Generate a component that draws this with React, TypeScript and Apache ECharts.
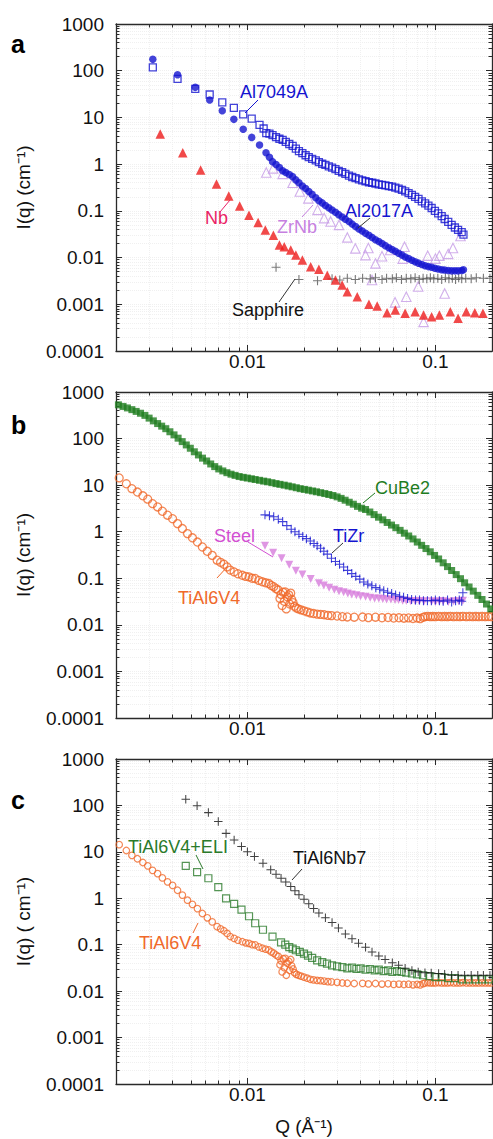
import React, { useEffect, useRef } from "react";
import * as echarts from "echarts";

// ---------- tick labels ----------
const xTickValues = [0.01, 0.1];
const xTickLabels = ["0.01", "0.1"];
const yTickValues = [0.0001, 0.001, 0.01, 0.1, 1, 10, 100, 1000];
const yTickLabels = ["0.0001", "0.001", "0.01", "0.1", "1", "10", "100", "1000"];

// ---------- panel a ----------
const al2017A: number[][] = [
  [0.00314, 175], [0.00425, 82], [0.00528, 44], [0.0063, 23.6], [0.00735, 13.9], [0.00847, 9.1], [0.0095, 5.6],
  [0.01054, 3.74], [0.0116, 2.57], [0.01256, 1.75], [0.0131, 1.4], [0.0136, 1.13], [0.0142, 0.98], [0.0148, 0.85],
  [0.0154, 0.72], [0.016, 0.66], [0.0167, 0.6], [0.0174, 0.54], [0.0181, 0.46], [0.0188, 0.4], [0.0196, 0.34],
  [0.0204, 0.3], [0.0212, 0.26], [0.0221, 0.225], [0.0231, 0.19], [0.024, 0.165], [0.025, 0.148], [0.026, 0.13],
  [0.0271, 0.116], [0.0282, 0.104], [0.0294, 0.093], [0.0306, 0.083], [0.0319, 0.074], [0.0332, 0.066], [0.0347, 0.059],
  [0.0361, 0.052], [0.0376, 0.046], [0.0392, 0.041], [0.0408, 0.037], [0.0425, 0.033], [0.0443, 0.03], [0.0461, 0.027],
  [0.048, 0.024], [0.05, 0.022], [0.052, 0.02], [0.0542, 0.018], [0.0565, 0.0162], [0.0588, 0.0148], [0.0612, 0.0136],
  [0.0637, 0.0124], [0.0664, 0.0113], [0.0691, 0.0103], [0.072, 0.0095], [0.075, 0.0088], [0.078, 0.0081], [0.0813, 0.0076],
  [0.0847, 0.0071], [0.0882, 0.0067], [0.0918, 0.0064], [0.0955, 0.0062], [0.0994, 0.0059], [0.1035, 0.0057], [0.108, 0.0055],
  [0.112, 0.0054], [0.117, 0.0053], [0.122, 0.0052], [0.127, 0.0052], [0.132, 0.0052], [0.138, 0.0053], [0.141, 0.0055],
];
const al7049A: number[][] = [
  [0.00314, 118], [0.00425, 67], [0.00528, 41], [0.0063, 31], [0.00735, 21], [0.00847, 16], [0.0095, 11.6],
  [0.01054, 9.4], [0.0116, 6.9], [0.0122, 5.8], [0.0126, 4.6], [0.0131, 4.5], [0.0136, 4.2], [0.0142, 3.8],
  [0.0148, 3.5], [0.0154, 3.3], [0.016, 3.0], [0.0167, 2.7], [0.0174, 2.45], [0.0181, 2.15], [0.0188, 1.9],
  [0.0196, 1.72], [0.0204, 1.55], [0.0212, 1.42], [0.0221, 1.3], [0.0231, 1.2], [0.024, 1.1], [0.025, 1.02],
  [0.026, 0.96], [0.0271, 0.9], [0.0282, 0.84], [0.0294, 0.78], [0.0306, 0.72], [0.0319, 0.67], [0.0332, 0.62],
  [0.0347, 0.57], [0.0361, 0.53], [0.0376, 0.5], [0.0392, 0.47], [0.0408, 0.45], [0.0425, 0.43], [0.0443, 0.41],
  [0.0461, 0.4], [0.048, 0.385], [0.05, 0.37], [0.052, 0.36], [0.0542, 0.35], [0.0565, 0.34], [0.0588, 0.33],
  [0.0612, 0.315], [0.0637, 0.3], [0.0664, 0.28], [0.0691, 0.26], [0.072, 0.24], [0.075, 0.22], [0.078, 0.2],
  [0.0813, 0.18], [0.0847, 0.16], [0.0882, 0.145], [0.0918, 0.13], [0.0955, 0.115], [0.0994, 0.1], [0.1035, 0.088],
  [0.108, 0.077], [0.112, 0.067], [0.117, 0.058], [0.122, 0.05], [0.127, 0.044], [0.132, 0.039], [0.138, 0.035], [0.141, 0.031],
];
const nb: number[][] = [
  [0.00344, 4.4], [0.00453, 1.75], [0.00564, 0.75], [0.00685, 0.375], [0.00796, 0.207], [0.0091, 0.127], [0.0102, 0.081],
  [0.0114, 0.056], [0.01245, 0.039], [0.01374, 0.03], [0.0148, 0.0185], [0.0157, 0.017], [0.017, 0.0145], [0.0181, 0.0113],
  [0.0196, 0.0089], [0.0217, 0.0064], [0.024, 0.0056], [0.0266, 0.0042], [0.0294, 0.0033], [0.0319, 0.0026], [0.034, 0.00186],
  [0.0384, 0.00145], [0.0443, 0.001], [0.049, 0.00092], [0.0553, 0.00066], [0.0612, 0.00075], [0.069, 0.00064], [0.078, 0.00069],
  [0.0865, 0.00059], [0.0955, 0.00054], [0.105, 0.00059], [0.12, 0.00069], [0.132, 0.0005], [0.146, 0.00069], [0.162, 0.00066], [0.179, 0.00064],
];
const zrNb: number[][] = [
  [0.0126, 0.66], [0.0137, 0.81], [0.0154, 0.62], [0.0174, 0.4], [0.019, 0.26], [0.0211, 0.185], [0.0236, 0.105],
  [0.0256, 0.07], [0.0277, 0.059], [0.0307, 0.05], [0.034, 0.027], [0.0375, 0.0157], [0.0425, 0.0113], [0.044, 0.016],
  [0.046, 0.0033], [0.048, 0.0075], [0.052, 0.0107], [0.0575, 0.0145], [0.061, 0.0011], [0.067, 0.0095], [0.0685, 0.017],
  [0.07, 0.00145], [0.081, 0.0024], [0.0865, 0.00042], [0.091, 0.011], [0.1, 0.0095], [0.105, 0.011], [0.112, 0.0017],
  [0.117, 0.012], [0.124, 0.016], [0.136, 0.029],
];
const sapphire: number[][] = [
  [0.0142, 0.0062], [0.0188, 0.0034], [0.0236, 0.0032], [0.0282, 0.0035], [0.031, 0.0033], [0.034, 0.0036], [0.0375, 0.0034],
  [0.041, 0.0036], [0.045, 0.0035], [0.048, 0.0037], [0.052, 0.0034], [0.055, 0.0036], [0.059, 0.0035], [0.062, 0.0037],
  [0.066, 0.0034], [0.07, 0.0036], [0.074, 0.0035], [0.078, 0.0037], [0.082, 0.0034], [0.086, 0.0036], [0.09, 0.0035],
  [0.094, 0.0037], [0.098, 0.0035], [0.103, 0.0036], [0.108, 0.0034], [0.113, 0.0037], [0.118, 0.0035], [0.123, 0.0036],
  [0.128, 0.0034], [0.133, 0.0037], [0.138, 0.0035], [0.145, 0.0036], [0.155, 0.0035], [0.165, 0.0037], [0.18, 0.0036], [0.195, 0.0036],
];

// ---------- panel b ----------
const cuBe2: number[][] = [
  [0.00206, 530], [0.00218, 490], [0.0023, 455], [0.00243, 418], [0.00256, 383], [0.0027, 350], [0.00285, 315],
  [0.003, 275], [0.00316, 240], [0.00333, 210], [0.0035, 185], [0.00368, 163], [0.00387, 140], [0.00407, 120],
  [0.00428, 102], [0.0045, 86], [0.00473, 73], [0.00497, 62], [0.00522, 52], [0.00549, 44.5], [0.00577, 38],
  [0.00607, 33], [0.00638, 28.5], [0.0067, 25], [0.00704, 22.3], [0.0074, 20.2], [0.00778, 18.5], [0.00818, 17.2],
  [0.0086, 16.2], [0.00904, 15.3], [0.0095, 14.7], [0.00999, 14.2], [0.0105, 13.7], [0.011, 13.2], [0.0116, 12.7],
  [0.0122, 12.2], [0.0128, 11.8], [0.0135, 11.3], [0.0142, 10.8], [0.0149, 10.4], [0.0157, 10], [0.0165, 9.6],
  [0.0173, 9.2], [0.0182, 8.8], [0.0191, 8.4], [0.0201, 8.1], [0.0211, 7.8], [0.0222, 7.5], [0.0233, 7.2],
  [0.0245, 6.9], [0.0258, 6.6], [0.0271, 6.3], [0.0285, 6.0], [0.03, 5.6], [0.0315, 5.2], [0.0331, 4.75],
  [0.0348, 4.3], [0.0366, 3.9], [0.0385, 3.5], [0.0405, 3.2], [0.0425, 3.0], [0.0448, 2.65], [0.0472, 2.33],
  [0.0498, 2.05], [0.0525, 1.8], [0.0554, 1.58], [0.0584, 1.39], [0.0616, 1.22], [0.0649, 1.07], [0.0684, 0.93],
  [0.0721, 0.81], [0.076, 0.7], [0.0801, 0.6], [0.0845, 0.51], [0.0891, 0.435], [0.0939, 0.37], [0.099, 0.31],
  [0.104, 0.26], [0.11, 0.215], [0.116, 0.178], [0.122, 0.147], [0.129, 0.12], [0.136, 0.098], [0.143, 0.08],
  [0.151, 0.065], [0.159, 0.053], [0.168, 0.043], [0.177, 0.035], [0.187, 0.028], [0.197, 0.022],
];
const tiZr: number[][] = [
  [0.0124, 2.3], [0.0131, 2.2], [0.0138, 2.1], [0.0146, 1.85], [0.0154, 1.65], [0.0162, 1.35], [0.0171, 1.13],
  [0.0179, 1.0], [0.0188, 0.88], [0.0197, 0.79], [0.0206, 0.71], [0.0216, 0.63], [0.0226, 0.56], [0.0235, 0.5],
  [0.0245, 0.44], [0.0255, 0.38], [0.0266, 0.33], [0.028, 0.27], [0.0294, 0.23], [0.0309, 0.2], [0.0325, 0.175],
  [0.0341, 0.148], [0.0359, 0.126], [0.0377, 0.11], [0.0396, 0.096], [0.0416, 0.083], [0.0437, 0.075], [0.0459, 0.069],
  [0.0482, 0.063], [0.0506, 0.058], [0.0531, 0.054], [0.0557, 0.05], [0.0585, 0.047], [0.0614, 0.044], [0.0645, 0.041],
  [0.0677, 0.039], [0.0711, 0.037], [0.0747, 0.035], [0.0784, 0.034], [0.0823, 0.034], [0.0864, 0.033], [0.0907, 0.033],
  [0.0952, 0.033], [0.1, 0.034], [0.105, 0.033], [0.11, 0.032], [0.116, 0.034], [0.122, 0.031], [0.128, 0.033],
  [0.134, 0.034], [0.138, 0.032], [0.14, 0.049],
];
const steel: number[][] = [
  [0.0124, 0.5], [0.0137, 0.355], [0.0152, 0.27], [0.0167, 0.195], [0.0181, 0.145], [0.0196, 0.12], [0.0217, 0.097],
  [0.024, 0.078], [0.0255, 0.07], [0.0272, 0.063], [0.029, 0.057], [0.0307, 0.053], [0.0325, 0.05], [0.0342, 0.047],
  [0.0359, 0.045], [0.038, 0.043], [0.04, 0.041], [0.0425, 0.04], [0.045, 0.038], [0.0475, 0.037], [0.05, 0.037],
  [0.0525, 0.036], [0.055, 0.035], [0.058, 0.035], [0.061, 0.034], [0.0637, 0.034], [0.067, 0.033], [0.07, 0.033],
  [0.074, 0.032], [0.078, 0.032], [0.082, 0.032], [0.087, 0.032], [0.0955, 0.032], [0.1, 0.031], [0.105, 0.032],
  [0.11, 0.032], [0.117, 0.031], [0.125, 0.032], [0.133, 0.032], [0.14, 0.033],
];
const tiAl6V4: number[][] = [
  [0.00208, 14.3], [0.00227, 10.7], [0.00243, 8.4], [0.0026, 7.1], [0.00278, 5.9], [0.00295, 5.0], [0.00313, 4.0],
  [0.00333, 3.4], [0.00353, 2.75], [0.00376, 2.26], [0.004, 1.9], [0.00425, 1.49], [0.00451, 1.17], [0.0048, 0.91],
  [0.0051, 0.74], [0.00542, 0.6], [0.00576, 0.47], [0.00612, 0.38], [0.0065, 0.31], [0.0069, 0.245], [0.0072, 0.22],
  [0.0075, 0.2], [0.0078, 0.175], [0.0081, 0.15], [0.0085, 0.137], [0.0089, 0.125], [0.0094, 0.116], [0.0098, 0.11],
  [0.0102, 0.107], [0.0106, 0.1], [0.011, 0.099], [0.0115, 0.09], [0.012, 0.084], [0.0125, 0.08], [0.013, 0.077],
  [0.0134, 0.07], [0.0138, 0.066], [0.0142, 0.06], [0.0146, 0.056], [0.0149, 0.037], [0.0151, 0.045], [0.0153, 0.026],
  [0.0155, 0.05], [0.0157, 0.032], [0.0159, 0.051], [0.0161, 0.022], [0.0163, 0.04], [0.0166, 0.044], [0.0168, 0.028],
  [0.017, 0.048], [0.0172, 0.035], [0.0175, 0.03], [0.0178, 0.025], [0.0182, 0.023], [0.0187, 0.022], [0.0193, 0.021],
  [0.02, 0.02], [0.0208, 0.019], [0.0216, 0.018], [0.0225, 0.0175], [0.0235, 0.017], [0.0245, 0.0168], [0.0256, 0.0165],
  [0.0268, 0.016], [0.028, 0.0158], [0.03, 0.0155], [0.032, 0.015], [0.034, 0.0148], [0.037, 0.0146], [0.041, 0.0147],
  [0.044, 0.0143], [0.048, 0.0146], [0.052, 0.0142], [0.056, 0.0144], [0.06, 0.014], [0.064, 0.0142], [0.068, 0.0139],
  [0.072, 0.0141], [0.076, 0.0137], [0.08, 0.014], [0.083, 0.0136], [0.086, 0.0145], [0.088, 0.015], [0.091, 0.0152],
  [0.094, 0.015], [0.097, 0.0151], [0.1, 0.015], [0.104, 0.0152], [0.108, 0.015], [0.112, 0.0151], [0.116, 0.015],
  [0.12, 0.0152], [0.125, 0.015], [0.13, 0.0151], [0.135, 0.015], [0.14, 0.0152], [0.146, 0.015], [0.152, 0.0151],
  [0.158, 0.015], [0.164, 0.0151], [0.17, 0.015], [0.177, 0.0151], [0.184, 0.015], [0.191, 0.0151], [0.198, 0.015],
];

// ---------- panel c ----------
const tiAl6Nb7: number[][] = [
  [0.0047, 136], [0.0054, 98], [0.0062, 70], [0.007, 45], [0.0077, 25], [0.0085, 18], [0.0093, 13], [0.01, 10],
  [0.0109, 7.9], [0.0121, 5.7], [0.0133, 4.1], [0.0142, 3.3], [0.0151, 2.7], [0.016, 2.25], [0.017, 1.8],
  [0.0179, 1.45], [0.0188, 1.19], [0.02, 0.95], [0.0212, 0.76], [0.0225, 0.6], [0.024, 0.48], [0.026, 0.38],
  [0.0282, 0.3], [0.0305, 0.23], [0.0332, 0.17], [0.036, 0.135], [0.039, 0.108], [0.0425, 0.088], [0.046, 0.07],
  [0.05, 0.057], [0.054, 0.048], [0.059, 0.041], [0.0637, 0.036], [0.069, 0.031], [0.075, 0.028], [0.081, 0.026],
  [0.088, 0.025], [0.095, 0.0245], [0.104, 0.024], [0.112, 0.023], [0.122, 0.022], [0.132, 0.022], [0.143, 0.022],
  [0.155, 0.022], [0.168, 0.022], [0.18, 0.022], [0.195, 0.022],
];
const tiAl6V4ELI: number[][] = [
  [0.0047, 5.0], [0.0054, 3.66], [0.0062, 2.7], [0.007, 1.74], [0.0077, 1.0], [0.0085, 0.76], [0.0093, 0.57],
  [0.0102, 0.41], [0.011, 0.29], [0.0121, 0.21], [0.0136, 0.15], [0.0151, 0.112], [0.0159, 0.1], [0.0167, 0.089],
  [0.0174, 0.082], [0.0181, 0.076], [0.019, 0.07], [0.02, 0.064], [0.021, 0.058], [0.0221, 0.052], [0.0235, 0.046],
  [0.025, 0.042], [0.0265, 0.039], [0.0282, 0.036], [0.03, 0.034], [0.032, 0.033], [0.034, 0.031], [0.036, 0.032],
  [0.038, 0.03], [0.04, 0.031], [0.0425, 0.029], [0.045, 0.03], [0.0475, 0.028], [0.05, 0.029], [0.053, 0.027],
  [0.056, 0.028], [0.059, 0.026], [0.0625, 0.027], [0.066, 0.026], [0.07, 0.025], [0.075, 0.024], [0.08, 0.023],
  [0.086, 0.022], [0.093, 0.021], [0.1, 0.02], [0.108, 0.02], [0.117, 0.019], [0.127, 0.019], [0.138, 0.018],
  [0.15, 0.018], [0.163, 0.018], [0.177, 0.018], [0.192, 0.018],
];

// ---------- layout / style constants ----------
const FONT = '"Liberation Sans", Arial, Helvetica, sans-serif';
const X_MIN = 0.002;
const X_MAX = 0.2;
const Y_MIN = 0.0001;
const Y_MAX = 1000;
const PLUS = "path://M0,4.4H10V5.6H0Z M4.4,0H5.6V10H4.4Z";

const xMinor: number[] = [];
for (let d = -3; d <= -1; d++) for (let m = 2; m <= 9; m++) xMinor.push(+(m * Math.pow(10, d)).toPrecision(6));
const yMinor: number[] = [];
for (let d = -4; d <= 2; d++) for (let m = 2; m <= 9; m++) yMinor.push(+(m * Math.pow(10, d)).toPrecision(6));

const panels = [
  { top: 24, height: 327, yTitle: "I(q) (cm\u207B\u00B9)" },
  { top: 392, height: 326, yTitle: "I(q) (cm\u207B\u00B9)" },
  { top: 759, height: 325, yTitle: "I(q) ( cm\u207B\u00B9)" },
];

const axisColor = "#2a2a2a";
const gridColor = "#f0f0f0";

function xAxes(gi: number, last: boolean) {
  const mk = (pos: string, major: boolean) => ({
    type: "log",
    logBase: 10,
    gridIndex: gi,
    position: pos,
    min: X_MIN,
    max: X_MAX,
    name: last && pos === "bottom" && major ? "Q (\u00C5\u207B\u00B9)" : "",
    nameLocation: "middle",
    nameGap: 33,
    nameTextStyle: { fontFamily: FONT, fontSize: 19, color: "#111" },
    axisLine: { show: major, onZero: false, lineStyle: { color: axisColor, width: 1.3 } },
    axisTick: {
      show: true,
      inside: true,
      length: major ? 6 : 3.5,
      customValues: major ? xTickValues : xMinor,
      lineStyle: { color: axisColor, width: 1 },
    },
    axisLabel: {
      show: pos === "bottom" && major,
      customValues: xTickValues,
      margin: 1,
      fontFamily: FONT,
      fontSize: 19,
      color: "#111",
      formatter: (v: number) => xTickLabels[xTickValues.findIndex((t) => Math.abs(Math.log10(t) - Math.log10(v)) < 1e-6)] ?? "",
    },
    splitLine: { show: pos === "bottom", lineStyle: { color: gridColor, type: "dotted", width: 1 } },
    minorTick: { show: false },
    minorSplitLine: { show: false },
  });
  return [mk("bottom", true), mk("bottom", false), mk("top", true), mk("top", false)];
}

function yAxes(gi: number, title: string) {
  const mk = (pos: string, major: boolean) => ({
    type: "log",
    logBase: 10,
    gridIndex: gi,
    position: pos,
    min: Y_MIN,
    max: Y_MAX,
    name: pos === "left" && major ? title : "",
    nameLocation: "middle",
    nameGap: 83,
    nameRotate: 90,
    nameTextStyle: { fontFamily: FONT, fontSize: 19, color: "#111" },
    axisLine: { show: major, onZero: false, lineStyle: { color: axisColor, width: 1.3 } },
    axisTick: {
      show: true,
      inside: true,
      length: major ? 6 : 3.5,
      customValues: major ? yTickValues : yMinor,
      lineStyle: { color: axisColor, width: 1 },
    },
    axisLabel: {
      show: pos === "left" && major,
      customValues: yTickValues,
      margin: 12,
      padding: [0, 0, 9, 0],
      fontFamily: FONT,
      fontSize: 19,
      color: "#111",
      formatter: (v: number) => yTickLabels[Math.round(Math.log10(v)) + 4] ?? "",
    },
    splitLine: { show: pos === "left", lineStyle: { color: gridColor, type: "dotted", width: 1 } },
    minorTick: { show: false },
    minorSplitLine: { show: false },
  });
  return [mk("left", true), mk("left", false), mk("right", true), mk("right", false)];
}

function sc(panel: number, data: number[][], symbol: string, size: number, style: any, extra: any = {}) {
  return {
    type: "scatter",
    xAxisIndex: panel * 4,
    yAxisIndex: panel * 4,
    data,
    symbol,
    symbolSize: size,
    itemStyle: style,
    silent: true,
    ...extra,
  };
}

const open = (c: string, w = 1.2) => ({ color: "rgba(0,0,0,0)", borderColor: c, borderWidth: w });
const fill = (c: string) => ({ color: c });

function label(text: string, x: number, y: number, color: string) {
  return {
    type: "text",
    x,
    y,
    style: { text, fill: color, font: `18px ${FONT}`, textAlign: "left", textVerticalAlign: "middle" },
    z: 100,
  };
}
function leader(x1: number, y1: number, x2: number, y2: number, color: string) {
  return { type: "line", shape: { x1, y1, x2, y2 }, style: { stroke: color, lineWidth: 1 }, z: 100 };
}
function panelLetter(text: string, y: number) {
  return {
    type: "text",
    x: 11,
    y,
    style: { text, fill: "#000", font: `bold 25px ${FONT}`, textAlign: "left", textVerticalAlign: "alphabetic" },
    z: 100,
  };
}

const BLUE = "#1414d0";
const RED = "#ee1b1b";
const ZR = "#c59be6";
const GREEN = "#1f7d1f";
const STEEL = "#d77ddc";
const ORANGE = "#f0692a";
const ELI = "#2a7a2a";

export default function App() {
  const ref = useRef<HTMLDivElement>(null);
  useEffect(() => {
    if (!ref.current) return;
    const chart = echarts.init(ref.current, undefined, { renderer: "svg" });
    const grid = panels.map((p) => ({ left: 116, top: p.top, width: 376, height: p.height }));
    const xAxis: any[] = [];
    const yAxis: any[] = [];
    panels.forEach((p, i) => {
      xAxis.push(...xAxes(i, i === 2));
      yAxis.push(...yAxes(i, p.yTitle));
    });
    const series = [
      // panel a
      sc(0, zrNb, "triangle", 9.5, open(ZR, 1.1)),
      sc(0, sapphire, PLUS, 9, fill("#555")),
      sc(0, nb, "triangle", 9.5, fill(RED)),
      sc(0, al7049A, "rect", 7, open(BLUE, 1.3)),
      sc(0, al2017A, "circle", 7.5, fill(BLUE)),
      // panel b
      sc(1, tiAl6V4, "circle", 8, open(ORANGE, 1.3)),
      sc(1, steel, "triangle", 8, fill(STEEL), { symbolRotate: 180 }),
      sc(1, tiZr, PLUS, 9, fill(BLUE)),
      sc(1, cuBe2, "rect", 7, fill(GREEN)),
      // panel c
      sc(2, tiAl6V4, "circle", 6.5, open(ORANGE, 1.2)),
      sc(2, tiAl6V4ELI, "rect", 7, open(ELI, 1.2)),
      sc(2, tiAl6Nb7, PLUS, 8.5, fill("#111")),
    ];
    const graphic = [
      panelLetter("a", 31),
      panelLetter("b", 412),
      panelLetter("c", 787),
      // panel a labels
      label("Al7049A", 240, 92, BLUE),
      leader(258, 100, 245, 113, BLUE),
      label("Al2017A", 345, 211, BLUE),
      leader(370, 218, 358, 228, "#333"),
      label("Nb", 205, 218, "#ea1f66"),
      leader(220, 212, 230, 200, "#ea1f66"),
      label("ZrNb", 277, 227, "#c67fe0"),
      leader(302, 217, 313, 205, "#c67fe0"),
      label("Sapphire", 232, 310, "#111"),
      leader(279, 302, 295, 279, "#333"),
      // panel b labels
      label("CuBe2", 375, 488, GREEN),
      leader(375, 493, 363, 503, GREEN),
      label("TiZr", 333, 536, BLUE),
      leader(343, 543, 332, 553, "#333"),
      label("Steel", 214, 536, "#d24fd2"),
      leader(248, 542, 273, 557, "#d24fd2"),
      label("TiAl6V4", 178, 598, ORANGE),
      leader(217, 578, 227, 567, ORANGE),
      // panel c labels
      label("TiAl6Nb7", 293, 858, "#111"),
      leader(302, 869, 292, 880, "#333"),
      label("TiAl6V4+ELI", 128, 847, ELI),
      leader(196, 855, 203, 869, ELI),
      label("TiAl6V4", 139, 943, ORANGE),
      leader(193, 933, 198, 923, ORANGE),
    ];
    chart.setOption({
      animation: false,
      backgroundColor: "#fff",
      grid,
      xAxis,
      yAxis,
      series,
      graphic,
    });
    return () => chart.dispose();
  }, []);
  return <div ref={ref} style={{ position: "fixed", left: 0, top: 0, width: 493, height: 1139 }} />;
}
